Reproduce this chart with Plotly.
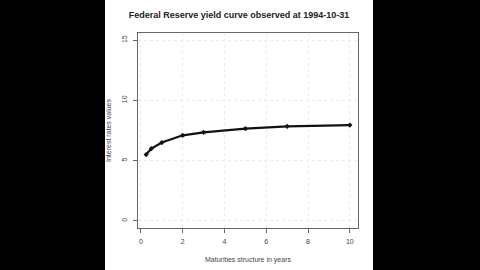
import plotly.graph_objects as go

maturities = [0.25, 0.5, 1, 2, 3, 5, 7, 10]
rates = [5.5, 6.0, 6.5, 7.1, 7.35, 7.65, 7.85, 7.95]
x_ticks = [0, 2, 4, 6, 8, 10]
y_ticks = [0, 5, 10, 15]
title_text = "Federal Reserve yield curve observed at 1994-10-31"
x_title = "Maturities structure in years"
y_title = "Interest rates values"

W, H = 480, 270
L, R, T, B = 138, 122, 33, 42
pw, ph = W - L - R, H - T - B

fig = go.Figure()
fig.add_trace(go.Scatter(
    x=maturities, y=rates, mode="lines+markers",
    line=dict(color="#111111", width=2.2),
    marker=dict(color="#111111", size=4, symbol="diamond"),
    showlegend=False,
))

def px_to_paper_x(px):
    return (px - L) / pw

def px_to_paper_y(py):
    return (H - B - py) / ph

shapes = []
for x0, x1 in [(-5, 105), (373, 600)]:
    shapes.append(dict(type="rect", xref="paper", yref="paper",
                       x0=px_to_paper_x(x0), x1=px_to_paper_x(x1),
                       y0=px_to_paper_y(400), y1=px_to_paper_y(-100),
                       fillcolor="black", line=dict(width=0), layer="above"))

fig.update_layout(
    width=W, height=H,
    margin=dict(l=L, r=R, t=T, b=B, autoexpand=False),
    paper_bgcolor="white", plot_bgcolor="white",
    font=dict(family="Liberation Sans, Arial, sans-serif", size=7, color="#444444"),
    title=dict(text="<b>" + title_text + "</b>", x=(239) / W, xanchor="center",
               y=1 - 15 / H, yanchor="middle",
               font=dict(size=9, color="#222222")),
    shapes=shapes,
    xaxis=dict(range=[-0.14, 10.39], tickvals=x_ticks, ticktext=[str(v) for v in x_ticks],
               automargin=False,
               showgrid=True, gridcolor="#ebebeb", griddash="dot", gridwidth=1,
               zeroline=False, showline=True, mirror=True, linecolor="#666666", linewidth=1,
               ticks="outside", ticklen=4, tickcolor="#666666", ticklabelstandoff=3,
               title=dict(text=x_title, standoff=12, font=dict(size=7, color="#444444"))),
    yaxis=dict(range=[-0.6, 15.6], tickvals=y_ticks, ticktext=[str(v) for v in y_ticks],
               tickangle=-90, automargin=False,
               showgrid=True, gridcolor="#ebebeb", griddash="dot", gridwidth=1,
               zeroline=False, showline=True, mirror=True, linecolor="#666666", linewidth=1,
               ticks="outside", ticklen=4, tickcolor="#666666", ticklabelstandoff=3,
               title=dict(text=y_title, standoff=8, font=dict(size=7, color="#444444"))),
)

fig.write_html("out.html")
